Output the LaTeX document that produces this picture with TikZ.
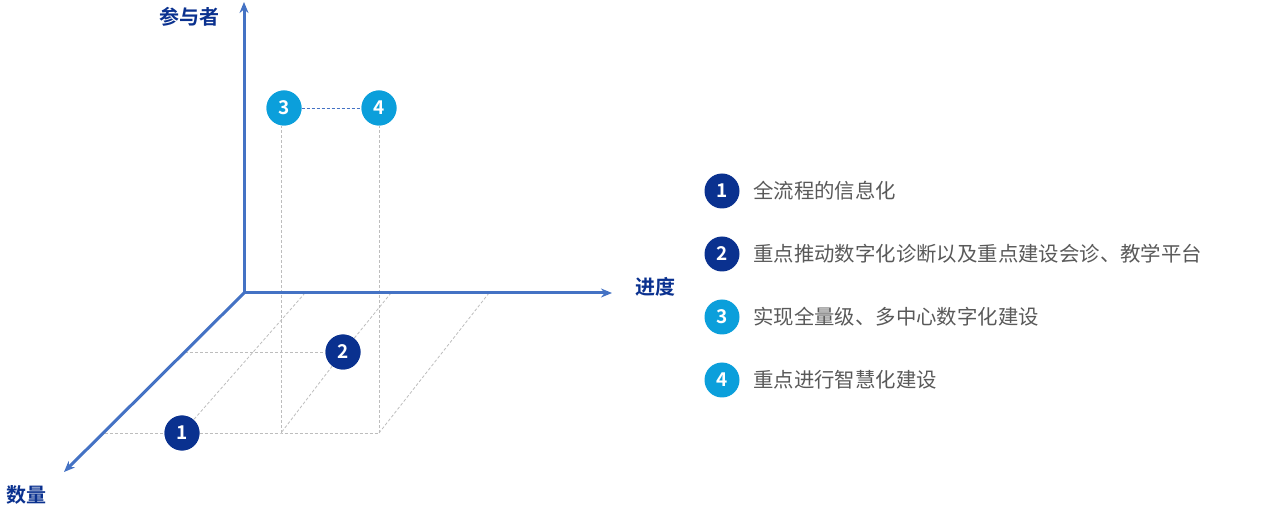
\documentclass[tikz,border=0pt]{standalone}
\usepackage{fontspec}
\setmainfont{Noto Sans CJK SC}
\newfontfamily\cjkb{Noto Sans CJK SC Bold}
\usetikzlibrary{arrows.meta}
\definecolor{axisblue}{HTML}{4472C4}
\definecolor{navy}{HTML}{0A318F}
\definecolor{sky}{HTML}{0B9FDB}
\definecolor{txtgray}{HTML}{595959}
\definecolor{dashgray}{HTML}{BDBDBD}
\tikzset{
  axis/.style={axisblue, line width=3bp, -{Stealth[length=11bp,width=9bp]}},
  axlabel/.style={text=navy, font=\cjkb\fontsize{20bp}{24bp}\selectfont, inner sep=0},
  guide/.style={dashgray, line width=0.8bp, dash pattern=on 3bp off 2bp},
  bluedash/.style={axisblue, line width=0.8bp, dash pattern=on 3bp off 2bp},
  dotn/.style={circle, fill=navy, minimum size=35bp, inner sep=0, text=white, font=\cjkb\fontsize{19bp}{22bp}\selectfont},
  dots/.style={circle, fill=sky, minimum size=35bp, inner sep=0, text=white, font=\cjkb\fontsize{19bp}{22bp}\selectfont},
  legtext/.style={anchor=west, text=txtgray, font=\fontsize{20.4bp}{24bp}\selectfont, inner sep=0}
}
\begin{document}
\begin{tikzpicture}[x=1bp,y=-1bp]
\useasboundingbox (0,0) rectangle (1275,510);
% coordinates
\coordinate (O) at (244,293);
\coordinate (ytip) at (244,2);
\coordinate (xtip) at (612,293);
\coordinate (ztip) at (64,472);
\coordinate (zA) at (105,433);
\coordinate (zB) at (185,352);
\coordinate (xA) at (305,293);
\coordinate (xB) at (391,293);
\coordinate (xC) at (489,293);
\coordinate (fA) at (281,433);
\coordinate (fB) at (379,433);
% guides
\node[dotn] (n1) at (182,433) {1};
\node[dotn] (n2) at (343,352) {2};
\node[dots] (n3) at (284,108) {3};
\node[dots] (n4) at (379,108) {4};
\draw[guide] (zA) -- (n1) -- (fA) -- (fB);
\draw[guide] (zB) -- (n2);
\draw[guide] (xA) -- (n1);
\draw[guide] (xB) -- (n2) -- (fA);
\draw[guide] (xC) -- (fB);
\draw[guide] (fA) -- (fA |- n3.south);
\draw[guide] (fB) -- (n4);
\draw[bluedash] (n3) -- (n4);
% redraw circles on top
\node[dotn] at (n1) {1};
\node[dotn] at (n2) {2};
\node[dots] at (n3) {3};
\node[dots] at (n4) {4};
% axes
\draw[axis] (O) -- (ytip);
\draw[axis] (O) -- (xtip);
\draw[axis] (O) -- (ztip);
\node[axlabel] (ly) at (189,17) {参与者};
\node[axlabel] (lx) at (655,287) {进度};
\node[axlabel] (lz) at (26,495) {数量};
% legend
\node[dotn] (k1) at (722,191) {1};
\node[dotn] (k2) at (722,254) {2};
\node[dots] (k3) at (722,317) {3};
\node[dots] (k4) at (722,380) {4};
\node[legtext] (t1) at (753,191) {全流程的信息化};
\node[legtext] (t2) at (753,254) {重点推动数字化诊断以及重点建设会诊、教学平台};
\node[legtext] (t3) at (753,317) {实现全量级、多中心数字化建设};
\node[legtext] (t4) at (753,380) {重点进行智慧化建设};
\end{tikzpicture}
\end{document}
